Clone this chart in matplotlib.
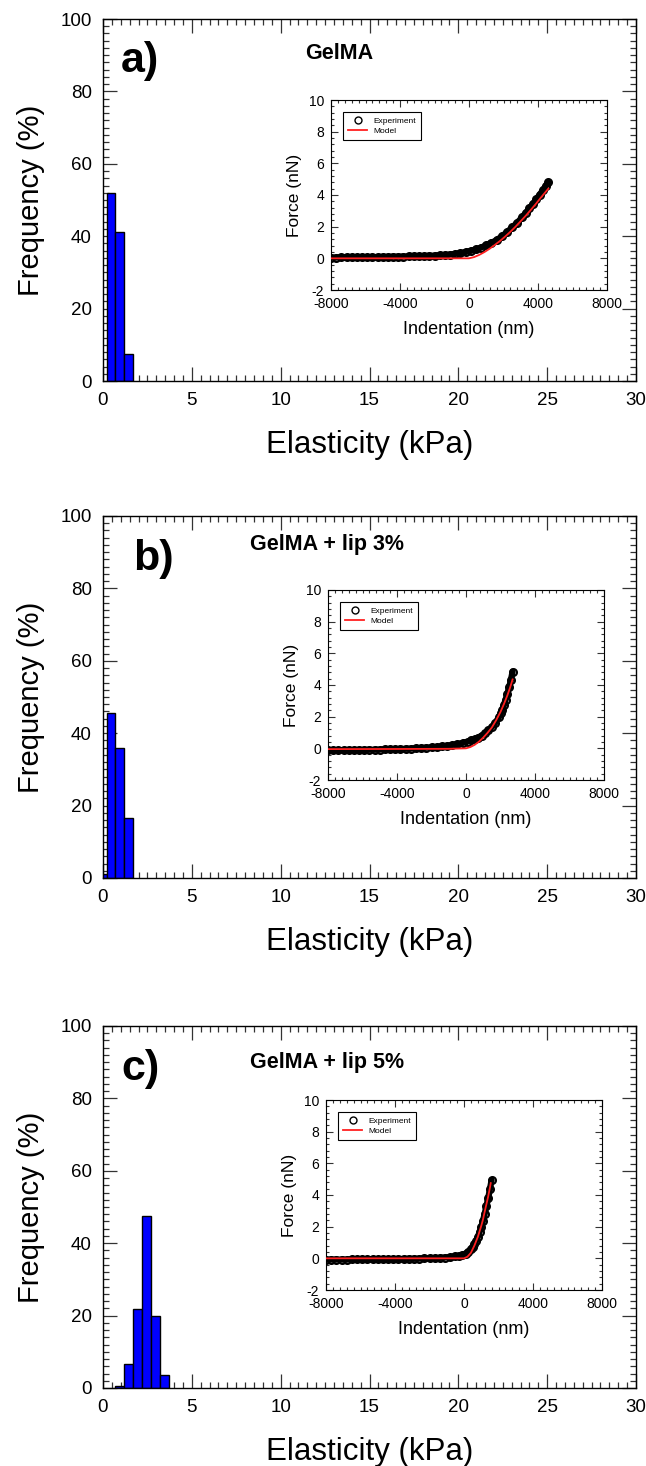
import matplotlib
matplotlib.use("Agg")
import matplotlib.pyplot as plt
from matplotlib.ticker import MultipleLocator

plt.rcParams['font.family'] = ['Liberation Sans', 'DejaVu Sans']
plt.rcParams['axes.unicode_minus'] = False

# ---------------- data ----------------
panel_labels = ["a)", "b)", "c)"]
panel_titles = ["GelMA", "GelMA + lip 3%", "GelMA + lip 5%"]

# histogram bins (centres, kPa) and frequencies (%)
bins_a = [0.45, 0.95, 1.45]
freq_a = [51.8, 41.2, 7.5]
bins_b = [-0.05, 0.45, 0.95, 1.45]
freq_b = [1.0, 45.5, 36.0, 16.7]
bins_c = [0.95, 1.45, 1.95, 2.45, 2.95, 3.45]
freq_c = [0.5, 6.6, 21.9, 47.5, 19.9, 3.6]
bin_width = 0.5

# inset force curves (nm, nN)
exp_x_a = [-8000, -7700, -7400, -7100, -6800, -6500, -6200, -5900, -5600, -5300,
           -5000, -4700, -4400, -4100, -3800, -3500, -3200, -2900, -2600, -2300,
           -2000, -1700, -1400, -1100, -800, -500, -200, 100, 400, 700, 1000,
           1300, 1600, 1900, 2200, 2500, 2800, 3100, 3300, 3500, 3700, 3900,
           4100, 4300, 4450, 4600]
exp_y_a = [0.05, 0.05, 0.06, 0.06, 0.06, 0.07, 0.07, 0.07, 0.08, 0.08,
           0.09, 0.09, 0.10, 0.10, 0.11, 0.12, 0.12, 0.13, 0.14, 0.16,
           0.17, 0.19, 0.21, 0.24, 0.28, 0.33, 0.40, 0.47, 0.56, 0.68, 0.82,
           0.98, 1.15, 1.38, 1.65, 1.95, 2.25, 2.62, 2.88, 3.15, 3.43, 3.72,
           4.02, 4.33, 4.57, 4.80]
mod_x_a = [-8000, -6000, -4000, -2000, 0, 300, 600, 900, 1200, 1500, 1800,
           2100, 2400, 2700, 3000, 3300, 3600, 3900, 4200, 4600]
mod_y_a = [0, 0, 0, 0, 0, 0.08, 0.22, 0.40, 0.61, 0.85, 1.10,
           1.38, 1.68, 2.00, 2.35, 2.70, 3.08, 3.47, 3.88, 4.40]

exp_x_b = [-8000, -7700, -7400, -7100, -6800, -6500, -6200, -5900, -5600, -5300,
           -5000, -4700, -4400, -4100, -3800, -3500, -3200, -2900, -2600, -2300,
           -2000, -1700, -1400, -1100, -800, -500, -200, 100, 300, 500, 700,
           900, 1100, 1300, 1500, 1700, 1900, 2000, 2100, 2200, 2300, 2400,
           2500, 2600, 2700]
exp_y_b = [-0.12, -0.12, -0.12, -0.11, -0.11, -0.11, -0.10, -0.10, -0.09, -0.09,
           -0.08, -0.07, -0.06, -0.05, -0.04, -0.03, -0.02, 0.00, 0.02, 0.04,
           0.06, 0.09, 0.12, 0.16, 0.21, 0.27, 0.34, 0.43, 0.50, 0.58, 0.68,
           0.80, 0.95, 1.13, 1.35, 1.62, 1.95, 2.20, 2.45, 2.75, 3.08, 3.45,
           3.85, 4.30, 4.85]
mod_x_b = [-8000, -4000, -1000, 0, 250, 500, 750, 1000, 1250, 1500, 1750,
           2000, 2200, 2400, 2550, 2700]
mod_y_b = [-0.05, -0.04, -0.03, 0.0, 0.08, 0.22, 0.42, 0.68, 0.98, 1.32, 1.78,
           2.30, 2.80, 3.35, 3.82, 4.35]

exp_x_c = [-8000, -7700, -7400, -7100, -6800, -6500, -6200, -5900, -5600, -5300,
           -5000, -4700, -4400, -4100, -3800, -3500, -3200, -2900, -2600, -2300,
           -2000, -1700, -1400, -1100, -800, -500, -300, -100, 100, 250, 400,
           500, 600, 700, 800, 900, 1000, 1100, 1200, 1300, 1400, 1500, 1600]
exp_y_c = [-0.08, -0.08, -0.08, -0.08, -0.08, -0.07, -0.07, -0.07, -0.07, -0.06,
           -0.06, -0.06, -0.05, -0.05, -0.04, -0.04, -0.03, -0.03, -0.02, -0.01,
           0.00, 0.01, 0.03, 0.05, 0.08, 0.12, 0.16, 0.21, 0.30, 0.42, 0.58,
           0.72, 0.90, 1.10, 1.35, 1.65, 1.98, 2.38, 2.82, 3.30, 3.80, 4.35, 4.95]
mod_x_c = [-8000, -4000, 0, 200, 400, 600, 800, 1000, 1100, 1200, 1300, 1400,
           1500, 1550]
mod_y_c = [0.0, 0.0, 0.0, 0.10, 0.35, 0.80, 1.35, 2.05, 2.45, 2.95, 3.42, 3.90,
           4.45, 4.75]

hist_bins = [bins_a, bins_b, bins_c]
hist_freq = [freq_a, freq_b, freq_c]
exp_x = [exp_x_a, exp_x_b, exp_x_c]
exp_y = [exp_y_a, exp_y_b, exp_y_c]
mod_x = [mod_x_a, mod_x_b, mod_x_c]
mod_y = [mod_y_a, mod_y_b, mod_y_c]

# ---------------- layout ----------------
W, H = 646, 1466
fig = plt.figure(figsize=(W / 100, H / 100), dpi=100)

def fr(l, t, r, b):
    return [l / W, 1 - b / H, (r - l) / W, (b - t) / H]

main_boxes = [fr(103, 19, 636, 381), fr(103, 516, 636, 878), fr(103, 1026, 636, 1388)]
inset_boxes = [fr(331, 100, 607, 290), fr(328, 590, 604, 780), fr(326, 1100, 602, 1290)]
label_pos = [(1.0, 88.5), (1.7, 88.0), (1.05, 88.2)]
title_pos = [(11.4, 90.6), (8.3, 92.0), (8.3, 89.8)]

for i in range(3):
    ax = fig.add_axes(main_boxes[i])
    ax.bar(hist_bins[i], hist_freq[i], width=bin_width, color='#0000FF',
           edgecolor='black', linewidth=1.0, zorder=2)
    ax.set_xlim(0, 30)
    ax.set_ylim(0, 100)
    ax.xaxis.set_major_locator(MultipleLocator(5))
    ax.xaxis.set_minor_locator(MultipleLocator(0.5))
    ax.yaxis.set_major_locator(MultipleLocator(20))
    ax.yaxis.set_minor_locator(MultipleLocator(2))
    ax.tick_params(which='both', direction='in', top=True, right=True,
                   color='#333333', width=0.9)
    ax.tick_params(which='major', length=10, labelsize=13.5, pad=8)
    ax.tick_params(which='minor', length=4)
    for s in ax.spines.values():
        s.set_linewidth(1.0)
    ax.set_xlabel("Elasticity (kPa)", fontsize=22.5, labelpad=15)
    ax.set_ylabel("Frequency (%)", fontsize=21, labelpad=11)
    ax.text(label_pos[i][0], label_pos[i][1], panel_labels[i], fontsize=31,
            fontweight='bold', ha='left', va='center')
    ax.text(title_pos[i][0], title_pos[i][1], panel_titles[i], fontsize=15.5,
            fontweight='bold', ha='left', va='center')

    ins = fig.add_axes(inset_boxes[i])
    ins.plot(exp_x[i], exp_y[i], color='black', linewidth=4.5, zorder=2,
             solid_capstyle='round')
    ins.plot(exp_x[i], exp_y[i], linestyle='none', marker='o', markersize=5.0,
             markerfacecolor='none', markeredgecolor='black', markeredgewidth=1.5,
             label='Experiment', zorder=3)
    ins.plot(mod_x[i], mod_y[i], color='#FF2020', linewidth=1.3, label='Model',
             zorder=4)
    ins.set_xlim(-8000, 8000)
    ins.set_ylim(-2, 10)
    ins.set_xticks([-8000, -4000, 0, 4000, 8000])
    ins.xaxis.set_minor_locator(MultipleLocator(400))
    ins.yaxis.set_major_locator(MultipleLocator(2))
    ins.yaxis.set_minor_locator(MultipleLocator(0.4))
    ins.tick_params(which='both', direction='in', top=True, right=True,
                    color='#333333', width=0.8)
    ins.tick_params(which='major', length=5, labelsize=10, pad=5)
    ins.tick_params(which='minor', length=2)
    ins.set_xlabel("Indentation (nm)", fontsize=13, labelpad=7)
    ins.set_ylabel("Force (nN)", fontsize=12.5, labelpad=5)
    leg = ins.legend(loc='upper left', fontsize=6, frameon=True, fancybox=False,
                     edgecolor='black', framealpha=1, borderpad=0.6,
                     handlelength=2.2, labelspacing=0.3,
                     bbox_to_anchor=(0.03, 0.96))
    leg.get_frame().set_linewidth(0.8)
    for h in leg.legend_handles:
        if hasattr(h, 'set_markeredgewidth'):
            h.set_markeredgewidth(1.0)

fig.savefig("out.png", dpi=100)
